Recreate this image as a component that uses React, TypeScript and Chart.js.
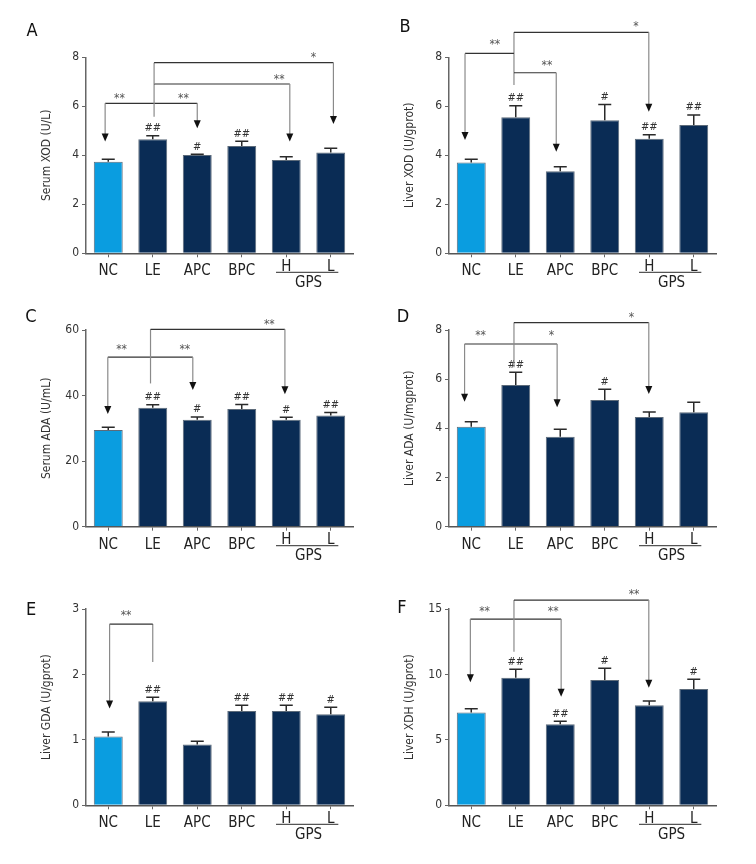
import { useEffect, useRef } from "react";
import { Chart, registerables } from "chart.js";

Chart.register(...registerables);

const FONT = '"Liberation Sans Narrow", "DejaVu Sans Condensed", "Roboto Condensed", "Open Sans", sans-serif';
Chart.defaults.font.family = FONT;

type Pt = [number, number];
type Link = { pts: Pt[] };
type Star = { x: number; y: number; text: string };

const categories = ["NC", "LE", "APC", "BPC", "H", "L"];
const groupLabel = "GPS";
const groupStart = 4;
const groupEnd = 5;

const lightColor = "#0a9de0";
const darkColor = "#0a2c55";

// A: Serum XOD
const serumXodValues = [3.74, 4.66, 4.01, 4.38, 3.81, 4.11];
const serumXodErrors = [0.1, 0.14, 0.03, 0.19, 0.13, 0.18];
const serumXodMarks = ["", "##", "#", "##", "", ""];
const serumXodLinks: Link[] = [
  { pts: [[1.03, 6.12], [-0.07, 6.12], [-0.07, 4.56]] },
  { pts: [[1.03, 6.12], [2.0, 6.12], [2.0, 5.1]] },
  { pts: [[1.03, 5.57], [1.03, 6.91], [4.08, 6.91], [4.08, 4.56]] },
  { pts: [[1.03, 6.91], [1.03, 7.78], [5.06, 7.78], [5.06, 5.28]] },
];
const serumXodStars: Star[] = [
  { x: 0.25, y: 6.3, text: "**" },
  { x: 1.69, y: 6.3, text: "**" },
  { x: 3.84, y: 7.08, text: "**" },
  { x: 4.61, y: 7.96, text: "*" },
];

// B: Liver XOD
const liverXodValues = [3.71, 5.55, 3.35, 5.43, 4.68, 5.24];
const liverXodErrors = [0.13, 0.47, 0.18, 0.64, 0.16, 0.4];
const liverXodMarks = ["", "##", "", "#", "##", "##"];
const liverXodLinks: Link[] = [
  { pts: [[0.96, 6.87], [0.96, 9.02], [3.99, 9.02], [3.99, 5.78]] },
  { pts: [[0.96, 8.16], [-0.14, 8.16], [-0.14, 4.62]] },
  { pts: [[0.96, 7.37], [1.91, 7.37], [1.91, 4.15]] },
];
const liverXodStars: Star[] = [
  { x: 0.53, y: 8.5, text: "**" },
  { x: 1.7, y: 7.64, text: "**" },
  { x: 3.7, y: 9.25, text: "*" },
];

// C: Serum ADA
const serumAdaValues = [29.5, 36.3, 32.6, 35.9, 32.6, 33.9];
const serumAdaErrors = [0.8, 0.9, 0.9, 1.4, 0.8, 0.9];
const serumAdaMarks = ["", "##", "#", "##", "#", "##"];
const serumAdaLinks: Link[] = [
  { pts: [[0.95, 51.7], [-0.01, 51.7], [-0.01, 34.4]] },
  { pts: [[0.95, 51.7], [1.9, 51.7], [1.9, 41.7]] },
  { pts: [[0.95, 43.7], [0.95, 60.2], [3.97, 60.2], [3.97, 40.4]] },
];
const serumAdaStars: Star[] = [
  { x: 0.3, y: 53.9, text: "**" },
  { x: 1.72, y: 53.9, text: "**" },
  { x: 3.62, y: 61.7, text: "**" },
];

// D: Liver ADA
const liverAdaValues = [4.07, 5.76, 3.66, 5.15, 4.46, 4.65];
const liverAdaErrors = [0.2, 0.52, 0.3, 0.44, 0.21, 0.41];
const liverAdaMarks = ["", "##", "", "#", "", ""];
const liverAdaLinks: Link[] = [
  { pts: [[0.96, 7.43], [-0.15, 7.43], [-0.15, 5.08]] },
  { pts: [[0.96, 7.43], [1.93, 7.43], [1.93, 4.86]] },
  { pts: [[0.96, 6.49], [0.96, 8.3], [3.99, 8.3], [3.99, 5.4]] },
];
const liverAdaStars: Star[] = [
  { x: 0.21, y: 7.76, text: "**" },
  { x: 1.8, y: 7.76, text: "*" },
  { x: 3.6, y: 8.48, text: "*" },
];

// E: Liver GDA
const liverGdaValues = [1.05, 1.59, 0.93, 1.44, 1.44, 1.39];
const liverGdaErrors = [0.07, 0.06, 0.05, 0.09, 0.09, 0.11];
const liverGdaMarks = ["", "##", "", "##", "##", "#"];
const liverGdaLinks: Link[] = [
  { pts: [[1.0, 2.19], [1.0, 2.77], [0.03, 2.77], [0.03, 1.48]] },
];
const liverGdaStars: Star[] = [{ x: 0.4, y: 2.89, text: "**" }];

// F: Liver XDH
const liverXdhValues = [7.1, 9.75, 6.19, 9.57, 7.64, 8.88];
const liverXdhErrors = [0.28, 0.64, 0.23, 0.9, 0.33, 0.75];
const liverXdhMarks = ["", "##", "##", "#", "", "#"];
const liverXdhLinks: Link[] = [
  { pts: [[0.96, 14.23], [-0.02, 14.23], [-0.02, 9.4]] },
  { pts: [[0.96, 14.23], [2.02, 14.23], [2.02, 8.3]] },
  { pts: [[0.96, 11.74], [0.96, 15.68], [3.99, 15.68], [3.99, 8.98]] },
];
const liverXdhStars: Star[] = [
  { x: 0.3, y: 14.79, text: "**" },
  { x: 1.84, y: 14.79, text: "**" },
  { x: 3.66, y: 16.07, text: "**" },
];

interface PanelData {
  letter: string;
  yTitle: string;
  yMax: number;
  yStep: number;
  values: number[];
  errors: number[];
  marks: string[];
  links: Link[];
  stars: Star[];
}

interface PanelLayout {
  x: number;
  y: number;
  w: number;
  h: number;
  top: number;
  bottom: number;
  left: number;
  right: number;
  letterX: number;
  letterY: number;
}

const panels: { data: PanelData; layout: PanelLayout }[] = [
  {
    data: { letter: "A", yTitle: "Serum XOD (U/L)", yMax: 8, yStep: 2, values: serumXodValues, errors: serumXodErrors, marks: serumXodMarks, links: serumXodLinks, stars: serumXodStars },
    layout: { x: 0, y: 0, w: 378, h: 290, top: 57.3, bottom: 253.3, left: 86, right: 353, letterX: 32, letterY: 31 },
  },
  {
    data: { letter: "B", yTitle: "Liver XOD (U/gprot)", yMax: 8, yStep: 2, values: liverXodValues, errors: liverXodErrors, marks: liverXodMarks, links: liverXodLinks, stars: liverXodStars },
    layout: { x: 378, y: 0, w: 378, h: 290, top: 57.3, bottom: 253.3, left: 71, right: 338, letterX: 27, letterY: 27 },
  },
  {
    data: { letter: "C", yTitle: "Serum ADA (U/mL)", yMax: 60, yStep: 20, values: serumAdaValues, errors: serumAdaErrors, marks: serumAdaMarks, links: serumAdaLinks, stars: serumAdaStars },
    layout: { x: 0, y: 290, w: 378, h: 290, top: 40, bottom: 236.7, left: 86, right: 353, letterX: 31, letterY: 27 },
  },
  {
    data: { letter: "D", yTitle: "Liver ADA (U/mgprot)", yMax: 8, yStep: 2, values: liverAdaValues, errors: liverAdaErrors, marks: liverAdaMarks, links: liverAdaLinks, stars: liverAdaStars },
    layout: { x: 378, y: 290, w: 378, h: 290, top: 40, bottom: 236.7, left: 71, right: 338, letterX: 25, letterY: 27 },
  },
  {
    data: { letter: "E", yTitle: "Liver GDA (U/gprot)", yMax: 3, yStep: 1, values: liverGdaValues, errors: liverGdaErrors, marks: liverGdaMarks, links: liverGdaLinks, stars: liverGdaStars },
    layout: { x: 0, y: 580, w: 378, h: 284, top: 29, bottom: 225.3, left: 86, right: 353, letterX: 31, letterY: 30 },
  },
  {
    data: { letter: "F", yTitle: "Liver XDH (U/gprot)", yMax: 15, yStep: 5, values: liverXdhValues, errors: liverXdhErrors, marks: liverXdhMarks, links: liverXdhLinks, stars: liverXdhStars },
    layout: { x: 378, y: 580, w: 378, h: 284, top: 29, bottom: 225.3, left: 71, right: 338, letterX: 24, letterY: 28.5 },
  },
];

const Y_AXIS_W = 46.2;

function makePlugin(d: PanelData, l: PanelLayout) {
  return {
    id: "annot" + d.letter,
    afterDraw(chart: any) {
      const ctx: CanvasRenderingContext2D = chart.ctx;
      const xs = chart.scales.x;
      const ys = chart.scales.y;
      const x0 = xs.getPixelForValue(0);
      const x1 = xs.getPixelForValue(1);
      const X = (v: number) => x0 + v * (x1 - x0);
      const Y = (v: number) => ys.getPixelForValue(v);
      ctx.save();

      // error bars + significance marks
      const meta = chart.getDatasetMeta(0);
      meta.data.forEach((bar: any, i: number) => {
        const top = Y(d.values[i] + d.errors[i]);
        ctx.strokeStyle = "#2a2a2a";
        ctx.lineWidth = 1.5;
        ctx.beginPath();
        ctx.moveTo(bar.x, bar.y);
        ctx.lineTo(bar.x, top);
        ctx.moveTo(bar.x - 6.5, top);
        ctx.lineTo(bar.x + 6.5, top);
        ctx.stroke();
        if (d.marks[i]) {
          ctx.fillStyle = "#333";
          ctx.font = "11px " + FONT;
          ctx.textAlign = "center";
          ctx.textBaseline = "bottom";
          ctx.fillText(d.marks[i], bar.x, top - 2);
        }
      });

      // comparison links
      d.links.forEach((lk) => {
        const pts = lk.pts.map(([a, b]) => [X(a), Y(b)]);
        for (let k = 0; k < pts.length - 1; k++) {
          const [ax, ay] = pts[k];
          const [bx, by] = pts[k + 1];
          const horiz = Math.abs(ay - by) < 0.5;
          ctx.strokeStyle = horiz ? "#333" : "#8a8a8a";
          ctx.lineWidth = 1.2;
          ctx.beginPath();
          ctx.moveTo(ax, ay);
          ctx.lineTo(bx, horiz ? by : by - (k === pts.length - 2 ? 6 : 0));
          ctx.stroke();
        }
        const [tx, ty] = pts[pts.length - 1];
        ctx.fillStyle = "#111";
        ctx.beginPath();
        ctx.moveTo(tx, ty);
        ctx.lineTo(tx - 3.5, ty - 8);
        ctx.lineTo(tx + 3.5, ty - 8);
        ctx.closePath();
        ctx.fill();
      });

      d.stars.forEach((s) => {
        ctx.fillStyle = "#555";
        ctx.font = "12px " + FONT;
        ctx.textAlign = "center";
        ctx.textBaseline = "middle";
        ctx.fillText(s.text, X(s.x), Y(s.y));
      });

      // group bracket
      const gy = xs.top + 19;
      ctx.strokeStyle = "#555";
      ctx.lineWidth = 1.2;
      ctx.beginPath();
      ctx.moveTo(X(groupStart - 0.23), gy);
      ctx.lineTo(X(groupEnd + 0.17), gy);
      ctx.stroke();
      ctx.fillStyle = "#222";
      ctx.font = "15px " + FONT;
      ctx.textAlign = "center";
      ctx.textBaseline = "middle";
      ctx.fillText(groupLabel, (X(groupStart) + X(groupEnd)) / 2, xs.top + 29.5);

      // panel letter
      ctx.font = "18px " + FONT;
      ctx.fillStyle = "#111";
      ctx.fillText(d.letter, l.letterX, l.letterY);
      ctx.restore();
    },
  };
}

function Panel({ data, layout }: { data: PanelData; layout: PanelLayout }) {
  const ref = useRef<HTMLCanvasElement>(null);
  useEffect(() => {
    const chart = new Chart(ref.current as HTMLCanvasElement, {
      type: "bar",
      data: {
        labels: categories,
        datasets: [
          {
            data: data.values,
            backgroundColor: data.values.map((_, i) => (i === 0 ? lightColor : darkColor)),
            borderColor: "#5d6b7a",
            borderWidth: 1,
            barPercentage: 0.65,
            categoryPercentage: 1,
          },
        ],
      },
      options: {
        responsive: false,
        animation: false,
        events: [],
        layout: {
          padding: {
            left: layout.left - Y_AXIS_W,
            top: layout.top,
            right: layout.w - layout.right,
            bottom: 0,
          },
        },
        plugins: { legend: { display: false }, tooltip: { enabled: false }, title: { display: false } },
        scales: {
          x: {
            type: "category",
            offset: true,
            afterFit: (s: any) => {
              s.height = layout.h - layout.bottom;
            },
            grid: { offset: false, drawOnChartArea: false, drawTicks: true, tickLength: 4, color: "#666" },
            border: { display: true, color: "#555", width: 1.5 },
            ticks: {
              color: "#222",
              font: (c: any) => ({ size: 15, family: FONT, lineHeight: c.index >= groupStart ? 0.6 : 1.2 }),
              padding: 5,
              maxRotation: 0,
            },
          },
          y: {
            min: 0,
            max: data.yMax,
            afterFit: (s: any) => {
              s.width = Y_AXIS_W;
            },
            grid: { drawOnChartArea: false, drawTicks: true, tickLength: 4, color: "#666" },
            border: { display: true, color: "#666", width: 1.5 },
            ticks: { stepSize: data.yStep, color: "#333", font: { size: 12, family: FONT }, padding: 3 },
            title: { display: true, text: data.yTitle, color: "#333", font: { size: 12, family: FONT }, padding: { top: 0, bottom: 0 } },
          },
        },
      },
      plugins: [makePlugin(data, layout)],
    } as any);
    return () => chart.destroy();
  }, []);
  return (
    <div style={{ position: "absolute", left: layout.x, top: layout.y, width: layout.w, height: layout.h }}>
      <canvas ref={ref} width={layout.w} height={layout.h} style={{ width: layout.w, height: layout.h, display: "block" }} />
    </div>
  );
}

export default function App() {
  return (
    <div style={{ position: "absolute", left: 0, top: 0, width: 756, height: 864, background: "#fff" }}>
      {panels.map((p) => (
        <Panel key={p.data.letter} data={p.data} layout={p.layout} />
      ))}
    </div>
  );
}
